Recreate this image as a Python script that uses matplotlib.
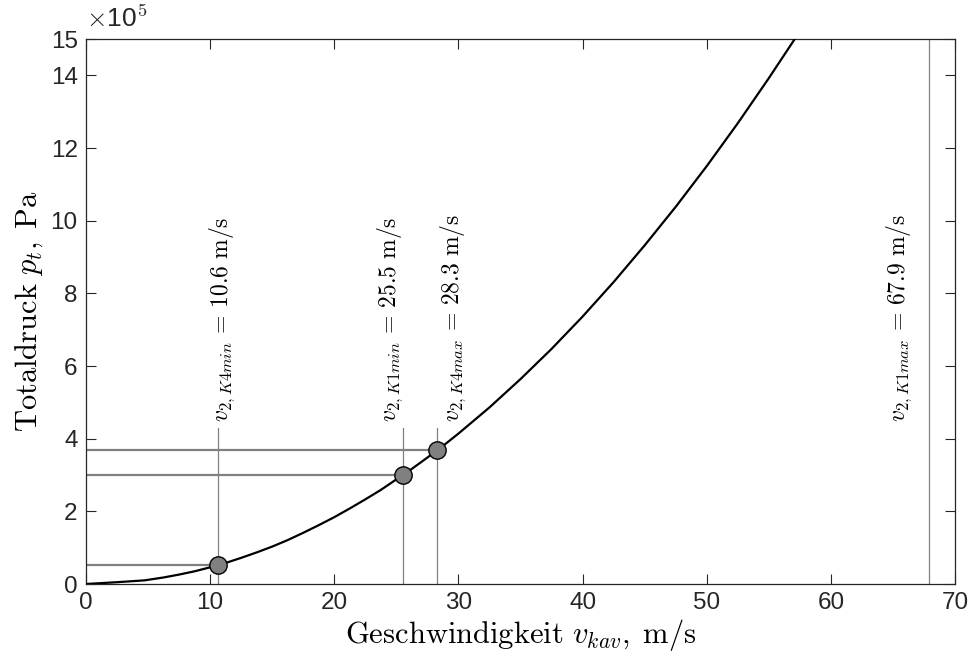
import matplotlib
matplotlib.use("Agg")
import matplotlib.pyplot as plt

plt.rcParams['mathtext.fontset'] = 'cm'
plt.rcParams['font.family'] = ['Liberation Sans', 'DejaVu Sans']

# curve: Geschwindigkeit (m/s) vs Totaldruck (x1e5 Pa)
v_curve = [0, 2.5, 4.7, 6.25, 7.5, 8.75, 10, 11.25, 12.5, 13.75, 15, 16.25, 17.5,
           18.75, 20, 21.25, 22.5, 23.75, 25, 26.25, 27.5, 28.75, 30, 32.5, 35,
           37.5, 40, 42.5, 45, 47.5, 50, 52.5, 55, 57.5]
p_curve = [0, 0.05, 0.10, 0.18, 0.26, 0.35, 0.46, 0.58, 0.72, 0.87, 1.03, 1.21, 1.41,
           1.62, 1.84, 2.08, 2.33, 2.59, 2.88, 3.17, 3.48, 3.80, 4.14, 4.86, 5.64,
           6.47, 7.36, 8.31, 9.32, 10.38, 11.5, 12.68, 13.92, 15.21]

# marked operating points
v_points = [10.6, 25.5, 28.3]
p_points = [0.52, 3.0, 3.69]

# vertical reference lines and labels
v_lines = [10.6, 25.5, 28.3, 67.9]
line_tops = [4.3, 4.3, 4.3, 15]
labels = [r'$v_{2,K4min}\,=\,10.6\ \mathrm{m/s}$',
          r'$v_{2,K1min}\,=\,25.5\ \mathrm{m/s}$',
          r'$v_{2,K4max}\,=\,28.3\ \mathrm{m/s}$',
          r'$v_{2,K1max}\,=\,67.9\ \mathrm{m/s}$']
label_x = [10.95, 24.5, 29.6, 65.5]
label_y = [4.45, 4.45, 4.45, 4.45]

xticks = [0, 10, 20, 30, 40, 50, 60, 70]
yticks = [0, 2, 4, 6, 8, 10, 12, 14, 15]

fig = plt.figure(figsize=(9.7, 6.59), dpi=100)
ax = fig.add_axes([0.0887, 0.1138, 0.8958, 0.8270])

gray = '#808080'
for v, p in zip(v_points, p_points):
    ax.plot([0, v], [p, p], color=gray, lw=1.6, zorder=2)
for v, t in zip(v_lines, line_tops):
    ax.plot([v, v], [0, t], color=gray, lw=0.9, zorder=2)

ax.plot(v_curve, p_curve, color='black', lw=1.6, zorder=3)
ax.plot(v_points, p_points, 'o', ms=12.5, mfc=gray, mec='black', mew=1.0, zorder=4)

for x, y, s in zip(label_x, label_y, labels):
    ax.text(x, y, s, rotation=90, ha='center', va='bottom', fontsize=17)

ax.set_xlim(0, 70)
ax.set_ylim(0, 15)
ax.set_xticks(xticks)
ax.set_yticks(yticks)
ax.set_xticklabels([str(t) for t in xticks])
ax.set_yticklabels([str(t) for t in yticks])
ax.tick_params(direction='in', length=7, width=0.8, labelsize=17.5, pad=6,
               top=True, right=True, colors='#262626', labelcolor='#262626')
for s in ax.spines.values():
    s.set_color('#262626')
    s.set_linewidth(0.9)

ax.set_xlabel(r'$\mathrm{Geschwindigkeit}\ v_{kav},\;\mathrm{m/s}$', fontsize=22, labelpad=2)
ax.set_ylabel(r'$\mathrm{Totaldruck}\ p_{t},\;\mathrm{Pa}$', fontsize=22, labelpad=4)

fig.text(0.089, 0.952, r'$\times$10$^5$', fontsize=19, color='#262626', ha='left', va='bottom')

fig.savefig('out.png', dpi=100)
